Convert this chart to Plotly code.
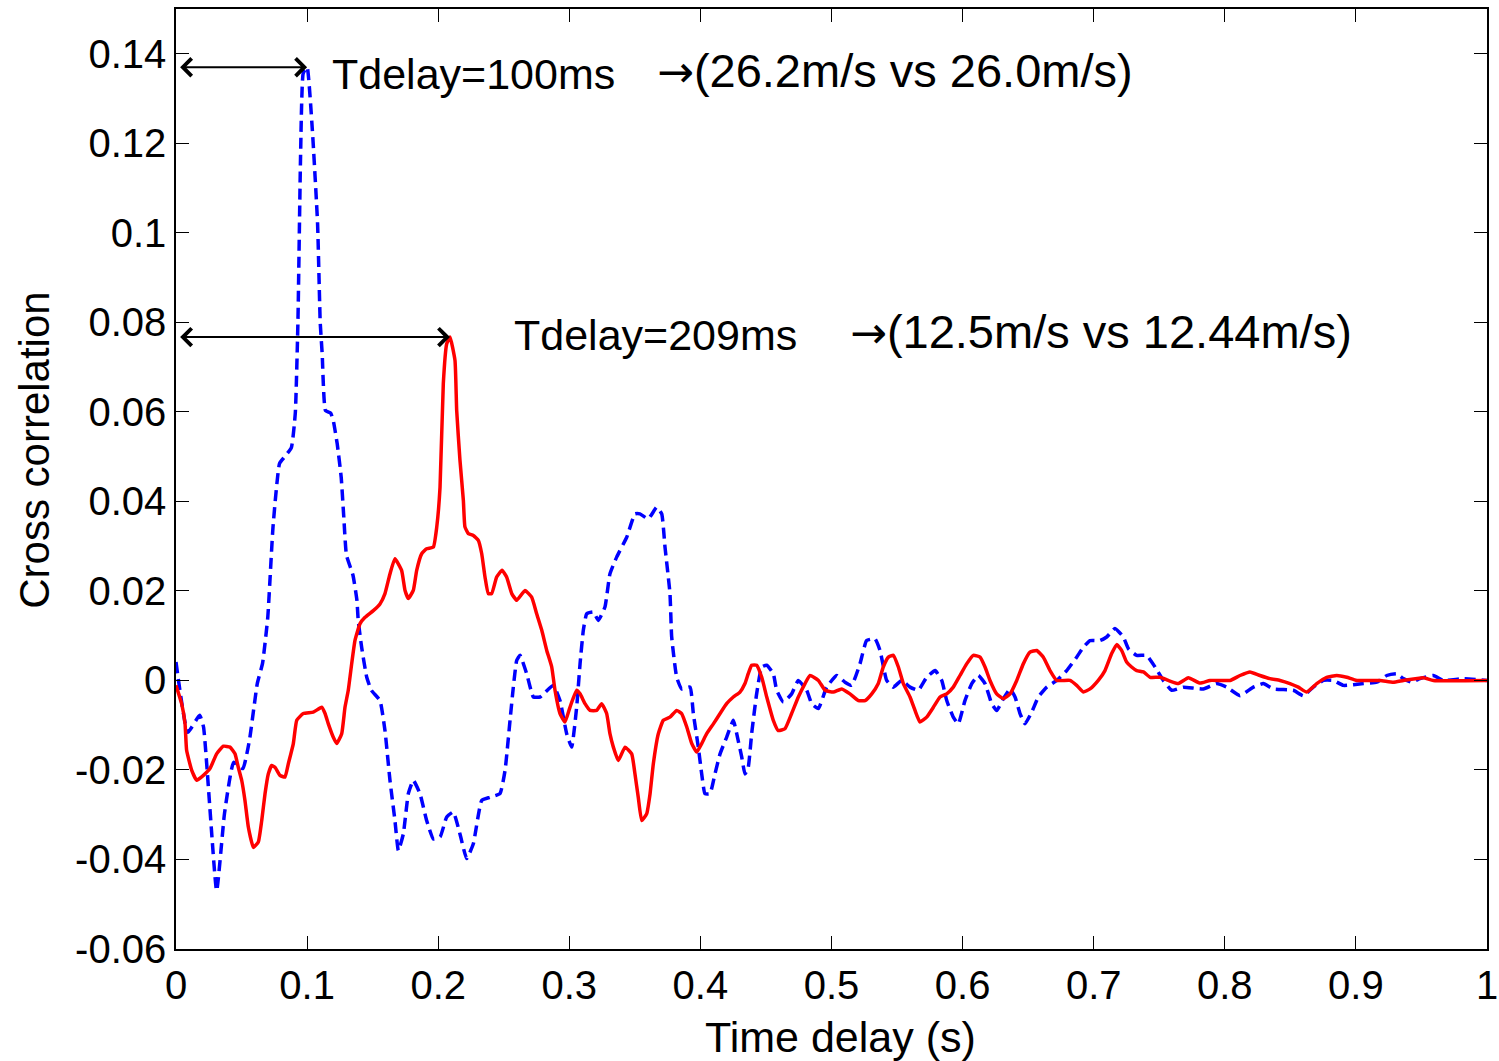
import plotly.graph_objects as go

# Cross-correlation vs. time delay for two sensor pairs
blue_t = [0.000, 0.009, 0.018, 0.021, 0.031, 0.037, 0.044, 0.051, 0.056, 0.062,
          0.066, 0.070, 0.074, 0.079, 0.083, 0.088, 0.091, 0.093, 0.095, 0.097,
          0.100, 0.104, 0.108, 0.110, 0.1115, 0.114, 0.118, 0.120, 0.123, 0.126,
          0.128, 0.130, 0.135, 0.138, 0.139, 0.1416, 0.1455, 0.149, 0.1556, 0.1594,
          0.1632, 0.167, 0.1696, 0.1734, 0.1772, 0.181, 0.1861, 0.1912, 0.1963, 0.2014,
          0.2065, 0.2115, 0.2166, 0.2217, 0.2268, 0.2332, 0.2395, 0.2471, 0.251, 0.2548,
          0.2573, 0.2599, 0.2624, 0.2675, 0.2726, 0.2777, 0.2878, 0.2929, 0.298, 0.3018,
          0.3056, 0.3082, 0.3107, 0.3133, 0.3183, 0.3221, 0.3272, 0.331, 0.3362, 0.3438,
          0.3501, 0.3539, 0.3603, 0.3667, 0.3705, 0.373, 0.3768, 0.3781, 0.3819, 0.3857,
          0.3921, 0.3946, 0.3984, 0.401, 0.4035, 0.4073, 0.4111, 0.415, 0.420, 0.4251,
          0.4277, 0.4315, 0.434, 0.4365, 0.4391, 0.4429, 0.4468, 0.4506, 0.4556, 0.4582,
          0.4633, 0.4696, 0.4747, 0.4811, 0.4849, 0.490, 0.4963, 0.504, 0.5103, 0.5154,
          0.5217, 0.5268, 0.5332, 0.537, 0.5421, 0.5471, 0.5535, 0.5599, 0.5662, 0.5726,
          0.579, 0.5841, 0.5879, 0.5929, 0.5967, 0.6018, 0.607, 0.612, 0.6171, 0.6222,
          0.626, 0.6311, 0.6362, 0.640, 0.6438, 0.6476, 0.6527, 0.6578, 0.6642, 0.6718,
          0.6794, 0.687, 0.6921, 0.6972, 0.7048, 0.7099, 0.7162, 0.7226, 0.7264, 0.7328,
          0.7404, 0.7468, 0.7531, 0.7595, 0.7684, 0.7836, 0.7938, 0.8014, 0.8116, 0.8218,
          0.8294, 0.837, 0.8523, 0.8599, 0.8675, 0.8752, 0.8828, 0.8904, 0.9057, 0.9159,
          0.9235, 0.9311, 0.9362, 0.9426, 0.9489, 0.9591, 0.9667, 0.982, 1.000]
blue_v = [0.0041, -0.0116, -0.0078, -0.0104, -0.0470, -0.0297, -0.0183, -0.0197, -0.0134, -0.0007,
          0.0038, 0.0141, 0.0343, 0.0485, 0.0500, 0.0520, 0.0597, 0.0800, 0.1170, 0.1356,
          0.1370, 0.1230, 0.1020, 0.0800, 0.0730, 0.0603, 0.0597, 0.0580, 0.0528, 0.0454,
          0.0364, 0.0280, 0.0235, 0.0179, 0.0134, 0.0074, 0.0007, -0.0022, -0.0045, -0.0112,
          -0.0223, -0.0313, -0.0380, -0.0343, -0.0253, -0.0223, -0.0253, -0.0313, -0.0354, -0.0350,
          -0.0305, -0.0294, -0.0343, -0.0398, -0.0365, -0.0268, -0.0261, -0.0253, -0.0201, -0.0089,
          -0.0015, 0.0045, 0.0056, 0.0015, -0.0037, -0.0037, -0.0011, -0.0045, -0.0119, -0.0149,
          -0.0060, 0.0037, 0.0112, 0.0149, 0.0153, 0.0134, 0.0164, 0.0238, 0.0276, 0.0320,
          0.0372, 0.0372, 0.0361, 0.0387, 0.0372, 0.0298, 0.0194, 0.0097, 0.0007, -0.0019,
          -0.0015, -0.0074, -0.0149, -0.0209, -0.0253, -0.0253, -0.0209, -0.0164, -0.0127, -0.0089,
          -0.0119, -0.0171, -0.0209, -0.0194, -0.0119, -0.0030, 0.0030, 0.0034, 0.0015, -0.0022,
          -0.0048, -0.0030, 0.0000, -0.0022, -0.0052, -0.0063, -0.0015, 0.0011, -0.0004, -0.0011,
          0.0037, 0.0089, 0.0093, 0.0067, 0.0000, -0.0015, 0.0000, -0.0015, -0.0022, 0.0007,
          0.0022, 0.0000, -0.0045, -0.0082, -0.0097, -0.0045, -0.0007, 0.0011, -0.0007, -0.0052,
          -0.0067, -0.0041, -0.0019, -0.0037, -0.0074, -0.0097, -0.0071, -0.0037, -0.0015, 0.0000,
          0.0022, 0.0052, 0.0074, 0.0089, 0.0089, 0.0097, 0.0116, 0.0097, 0.0071, 0.0056,
          0.0056, 0.0030, 0.0000, -0.0022, -0.0015, -0.0019, -0.0007, -0.0015, -0.0034, -0.0015,
          -0.0007, -0.0019, -0.0022, -0.0034, -0.0015, 0.0000, 0.0000, -0.0011, -0.0007, -0.0004,
          0.0011, 0.0015, 0.0004, -0.0004, 0.0004, 0.0011, 0.0000, 0.0004, 0.0000]

red_t = [0.000, 0.0043, 0.0069, 0.0081, 0.012, 0.0158, 0.0209, 0.0259, 0.031, 0.0361,
         0.0412, 0.045, 0.0475, 0.0501, 0.0526, 0.0552, 0.059, 0.0628, 0.0654, 0.0679,
         0.0704, 0.073, 0.0755, 0.0793, 0.0831, 0.0857, 0.0895, 0.0921, 0.0971, 0.1047,
         0.1111, 0.1137, 0.1162, 0.120, 0.1226, 0.1264, 0.1289, 0.1314, 0.134, 0.1365,
         0.1404, 0.1442, 0.1505, 0.1556, 0.1594, 0.1632, 0.167, 0.1721, 0.1747, 0.1772,
         0.181, 0.1836, 0.1874, 0.1912, 0.1963, 0.1989, 0.2014, 0.2039, 0.2065, 0.209,
         0.2128, 0.2141, 0.2166, 0.2192, 0.2204, 0.223, 0.2268, 0.2306, 0.2332, 0.2357,
         0.2382, 0.2408, 0.2446, 0.2487, 0.2522, 0.2561, 0.2599, 0.2662, 0.2713, 0.2751,
         0.279, 0.2828, 0.2866, 0.2891, 0.2929, 0.2967, 0.3005, 0.3056, 0.3082, 0.312,
         0.3158, 0.3209, 0.3247, 0.3285, 0.331, 0.3336, 0.3374, 0.3425, 0.3476, 0.3501,
         0.3526, 0.3552, 0.359, 0.3616, 0.3641, 0.3679, 0.3717, 0.3768, 0.3819, 0.3857,
         0.3896, 0.3934, 0.3972, 0.401, 0.4048, 0.4099, 0.415, 0.420, 0.4251, 0.4302,
         0.434, 0.4365, 0.4391, 0.4429, 0.4468, 0.4506, 0.4556, 0.4594, 0.4645, 0.4696,
         0.4747, 0.4798, 0.4836, 0.490, 0.4951, 0.5014, 0.5078, 0.5141, 0.5205, 0.5256,
         0.5307, 0.5357, 0.5395, 0.5434, 0.5472, 0.551, 0.5548, 0.5599, 0.5637, 0.5675,
         0.5726, 0.5777, 0.5828, 0.5879, 0.5929, 0.598, 0.6031, 0.6082, 0.6133, 0.6171,
         0.6209, 0.626, 0.6311, 0.6362, 0.6413, 0.6463, 0.6514, 0.6565, 0.6616, 0.6667,
         0.6718, 0.6819, 0.687, 0.6921, 0.6972, 0.7035, 0.7086, 0.7137, 0.7175, 0.7213,
         0.7251, 0.7289, 0.7328, 0.7379, 0.743, 0.7506, 0.7569, 0.7646, 0.7722, 0.7811,
         0.7887, 0.804, 0.8116, 0.8192, 0.8268, 0.8345, 0.8421, 0.8497, 0.8561, 0.8625,
         0.8701, 0.8777, 0.8854, 0.893, 0.9006, 0.9184, 0.9285, 0.9362, 0.9514, 0.9591,
         1.000]
red_v = [-0.0011, -0.0052, -0.0097, -0.0156, -0.0201, -0.0223, -0.0212, -0.0197, -0.0164, -0.0147,
         -0.0149, -0.0164, -0.0194, -0.0223, -0.0268, -0.0328, -0.0373, -0.0361, -0.0313, -0.0253,
         -0.0209, -0.0190, -0.0194, -0.0212, -0.0216, -0.0186, -0.0141, -0.0089, -0.0074, -0.0071,
         -0.0060, -0.0074, -0.0097, -0.0127, -0.0141, -0.0119, -0.0060, -0.0022, 0.0037, 0.0089,
         0.0127, 0.0141, 0.0156, 0.0171, 0.0194, 0.0238, 0.0272, 0.0246, 0.0201, 0.0183,
         0.0201, 0.0246, 0.0283, 0.0294, 0.0298, 0.0343, 0.0432, 0.0663, 0.0752, 0.0767,
         0.0715, 0.0603, 0.0492, 0.0402, 0.0343, 0.0328, 0.0324, 0.0313, 0.0283, 0.0231,
         0.0194, 0.0194, 0.0231, 0.0246, 0.0231, 0.0194, 0.0179, 0.0201, 0.0186, 0.0149,
         0.0112, 0.0067, 0.0030, -0.0022, -0.0074, -0.0093, -0.0060, -0.0022, -0.0030, -0.0052,
         -0.0067, -0.0067, -0.0052, -0.0074, -0.0119, -0.0149, -0.0179, -0.0149, -0.0164, -0.0209,
         -0.0261, -0.0313, -0.0298, -0.0253, -0.0186, -0.0119, -0.0089, -0.0082, -0.0067, -0.0074,
         -0.0104, -0.0141, -0.0160, -0.0141, -0.0119, -0.0097, -0.0074, -0.0052, -0.0037, -0.0026,
         -0.0007, 0.0015, 0.0034, 0.0034, 0.0007, -0.0037, -0.0089, -0.0112, -0.0108, -0.0074,
         -0.0037, -0.0007, 0.0011, 0.0000, -0.0022, -0.0026, -0.0019, -0.0030, -0.0045, -0.0045,
         -0.0030, -0.0007, 0.0030, 0.0052, 0.0056, 0.0030, -0.0007, -0.0037, -0.0067, -0.0093,
         -0.0082, -0.0060, -0.0037, -0.0030, -0.0015, 0.0011, 0.0037, 0.0056, 0.0052, 0.0030,
         0.0000, -0.0030, -0.0041, -0.0030, 0.0000, 0.0037, 0.0063, 0.0067, 0.0052, 0.0022,
         0.0000, 0.0000, -0.0011, -0.0026, -0.0019, 0.0000, 0.0022, 0.0060, 0.0080, 0.0067,
         0.0041, 0.0030, 0.0022, 0.0019, 0.0007, 0.0007, 0.0000, -0.0007, 0.0006, -0.0006,
         0.0000, 0.0000, 0.0011, 0.0019, 0.0011, 0.0004, 0.0000, -0.0007, -0.0015, -0.0026,
         -0.0007, 0.0007, 0.0011, 0.0007, 0.0000, 0.0000, -0.0004, 0.0000, 0.0006, 0.0000,
         0.0000]

x_ticks = [0, 0.1, 0.2, 0.3, 0.4, 0.5, 0.6, 0.7, 0.8, 0.9, 1]
x_labels = ["0", "0.1", "0.2", "0.3", "0.4", "0.5", "0.6", "0.7", "0.8", "0.9", "1"]
y_ticks = [-0.06, -0.04, -0.02, 0, 0.02, 0.04, 0.06, 0.08, 0.1, 0.12, 0.14]
y_labels = ["-0.06", "-0.04", "-0.02", "0", "0.02", "0.04", "0.06", "0.08", "0.1", "0.12", "0.14"]

delay_notes = ["Tdelay=100ms", "Tdelay=209ms"]
speed_notes = ["(26.2m/s vs 26.0m/s)", "(12.5m/s vs 12.44m/s)"]

FONT = "Liberation Sans, Arial, Helvetica, sans-serif"
ARROW_FONT = "DejaVu Sans"

fig = go.Figure()
fig.add_trace(go.Scatter(x=blue_t, y=blue_v, mode="lines",
                         line=dict(color="#0000ff", width=3.5, dash="11px,6px",
                                   shape="spline", smoothing=0.4),
                         showlegend=False))
fig.add_trace(go.Scatter(x=red_t, y=red_v, mode="lines",
                         line=dict(color="#ff0000", width=3.5,
                                   shape="spline", smoothing=0.4),
                         showlegend=False))

# peak locations for the delay arrows
peaks = []
for t, v in ((blue_t, blue_v), (red_t, red_v)):
    i = max(range(len(v)), key=lambda k: v[k])
    peaks.append((t[i], v[i]))

annotations = []
for (pt, pv) in peaks:
    annotations.append(dict(
        x=pt, y=pv, ax=0.002, ay=pv, xref="x", yref="y", axref="x", ayref="y",
        text="", showarrow=True, arrowside="end+start",
        arrowhead=4, startarrowhead=4, arrowsize=1.7, startarrowsize=1.7,
        arrowwidth=2, arrowcolor="black", standoff=0, startstandoff=0))

text_pos = [((0.1175, 0.1354), (0.3654, 0.1363)), ((0.2563, 0.0771), (0.5126, 0.0780))]
for k in range(2):
    (dx, dy), (sx, sy) = text_pos[k]
    annotations.append(dict(x=dx, y=dy, xref="x", yref="y", text=delay_notes[k],
                            showarrow=False, xanchor="left", yanchor="middle",
                            font=dict(family=FONT, size=43, color="black")))
    annotations.append(dict(
        x=sx, y=sy, xref="x", yref="y",
        text=f'<span style="font-family:{ARROW_FONT};font-size:44px">\u2192</span>{speed_notes[k]}',
        showarrow=False, xanchor="left", yanchor="middle",
        font=dict(family=FONT, size=47, color="black")))

# axis titles placed as free text
annotations.append(dict(x=-0.1076, y=0.531, xref="paper", yref="paper",
                        text="Cross correlation", textangle=-90, showarrow=False,
                        xanchor="center", yanchor="middle",
                        font=dict(family=FONT, size=42, color="black")))
annotations.append(dict(x=0.5065, y=-0.0936, xref="paper", yref="paper",
                        text="Time delay (s)", showarrow=False,
                        xanchor="center", yanchor="middle",
                        font=dict(family=FONT, size=43, color="black")))

axis_common = dict(showgrid=False, zeroline=False, showline=True, linecolor="black",
                   linewidth=1.5, mirror="ticks", ticks="inside", ticklen=13,
                   tickwidth=1, tickcolor="black", automargin=False,
                   tickfont=dict(family=FONT, size=40, color="black"))

fig.update_layout(
    width=1499, height=1061,
    margin=dict(l=176, r=12, t=9, b=112),
    paper_bgcolor="white", plot_bgcolor="white",
    font=dict(family=FONT, color="black"),
    annotations=annotations,
    xaxis=dict(range=[0, 1], tickvals=x_ticks, ticktext=x_labels, **axis_common),
    yaxis=dict(range=[-0.06, 0.15], tickvals=y_ticks, ticktext=y_labels, **axis_common),
)

fig.write_html("out.html")
